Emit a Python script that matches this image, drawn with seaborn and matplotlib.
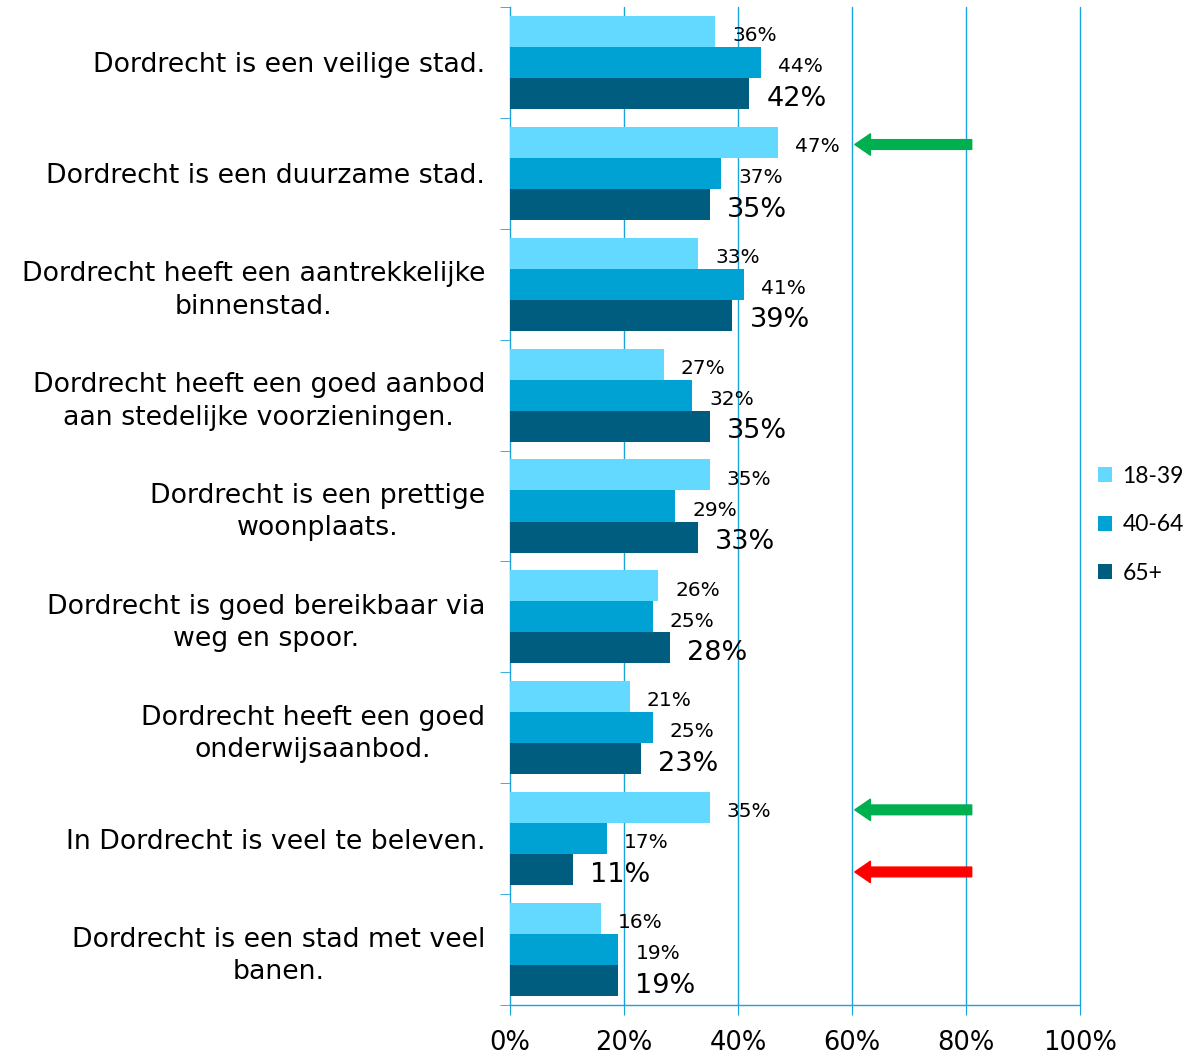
import matplotlib
matplotlib.use("Agg")
import matplotlib.pyplot as plt
import seaborn as sns
import pandas as pd
import numpy as np
from matplotlib.patches import Patch

categories = [
    "Dordrecht is een veilige stad.",
    "Dordrecht is een duurzame stad.",
    "Dordrecht heeft een aantrekkelijke\nbinnenstad.",
    "Dordrecht heeft een goed aanbod\naan stedelijke voorzieningen.",
    "Dordrecht is een prettige\nwoonplaats.",
    "Dordrecht is goed bereikbaar via\nweg en spoor.",
    "Dordrecht heeft een goed\nonderwijsaanbod.",
    "In Dordrecht is veel te beleven.",
    "Dordrecht is een stad met veel\nbanen.",
]
groups = ["18-39", "40-64", "65+"]
v_18_39 = [36, 47, 33, 27, 35, 26, 21, 35, 16]
v_40_64 = [44, 37, 41, 32, 29, 25, 25, 17, 19]
v_65 = [42, 35, 39, 35, 33, 28, 23, 11, 19]
colors = ["#63D9FF", "#00A2D3", "#005D80"]
xticks = [0, 20, 40, 60, 80, 100]

# annotation arrows: (category index, group, colour)
arrow_cats = [1, 7, 7]
arrow_groups = ["18-39", "18-39", "65+"]
arrow_colors = ["#00B050", "#00B050", "#FF0000"]
arrow_from = 81
arrow_to = 60.5

series = [v_18_39, v_40_64, v_65]
rows = []
for g, vals in zip(groups, series):
    for c, v in zip(categories, vals):
        rows.append({"cat": c, "group": g, "value": v})
df = pd.DataFrame(rows)

sns.set_style("white")
plt.rcParams["font.family"] = ["DejaVu Sans"]
plt.rcParams["text.color"] = "black"
plt.rcParams["xtick.labelcolor"] = "black"
plt.rcParams["ytick.labelcolor"] = "black"

fig = plt.figure(figsize=(11.98, 10.56), dpi=100)
ax = fig.add_axes([510 / 1198, 1 - 1005 / 1056, 570 / 1198, 998 / 1056])

width = 0.84
sns.barplot(data=df, y="cat", x="value", hue="group", order=categories,
            hue_order=groups, palette=colors, orient="h", width=width,
            saturation=1, ax=ax, legend=False, edgecolor="none", zorder=3)

bar_h = width / 3
offsets = {g: (i - 1) * bar_h for i, g in enumerate(groups)}
for gi, (g, vals) in enumerate(zip(groups, series)):
    for ci, v in enumerate(vals):
        fs = 19.5 if g == "65+" else 14.5
        ax.text(v + 3.0, ci + offsets[g] + 0.02, f"{v}%", va="center_baseline",
                ha="left", fontsize=fs, color="black", zorder=5)

for ci, g, col in zip(arrow_cats, arrow_groups, arrow_colors):
    y = ci + offsets[g] + 0.02
    ax.annotate("", xy=(arrow_to, y), xytext=(arrow_from, y),
                arrowprops=dict(arrowstyle="simple,head_length=0.8,head_width=1.1,tail_width=0.5",
                                color=col, shrinkA=0, shrinkB=0, mutation_scale=14),
                zorder=6, annotation_clip=False)

grid_col = "#1BA3DA"
ax.set_xlim(0, 100)
ax.set_ylim(len(categories) - 0.5, -0.5)
ax.set_xticks(xticks)
ax.set_xticklabels([f"{t}%" for t in xticks], fontsize=18.5, color="black")
ax.grid(False)
for t in xticks[1:]:
    ax.axvline(t, color=grid_col, lw=1.0, zorder=0, clip_on=False)
ax.set_xlabel("")
ax.set_ylabel("")

for s in ["top", "right"]:
    ax.spines[s].set_visible(False)
for s in ["left", "bottom"]:
    ax.spines[s].set_color(grid_col)
    ax.spines[s].set_linewidth(1.0)

ax.tick_params(axis="x", which="major", length=7, color=grid_col, pad=11, bottom=True)
ax.tick_params(axis="y", which="major", length=0, pad=18, labelsize=19.3)
ax.set_yticks(np.arange(-0.5, len(categories)), minor=True)
ax.tick_params(axis="y", which="minor", length=7, color=grid_col, left=True)
for lab in ax.get_yticklabels():
    lab.set_multialignment("center")
    lab.set_linespacing(1.32)
    lab.set_color("black")

handles = [Patch(facecolor=c, edgecolor="none") for c in colors]
fig.legend(handles, groups, loc="center left", bbox_to_anchor=(0.8995, 0.503),
           frameon=False, prop={"family": "Lato", "size": 16.5},
           handlelength=0.6, handleheight=0.6, handletextpad=0.45,
           labelspacing=1.2)

fig.savefig("out.png", dpi=100)
